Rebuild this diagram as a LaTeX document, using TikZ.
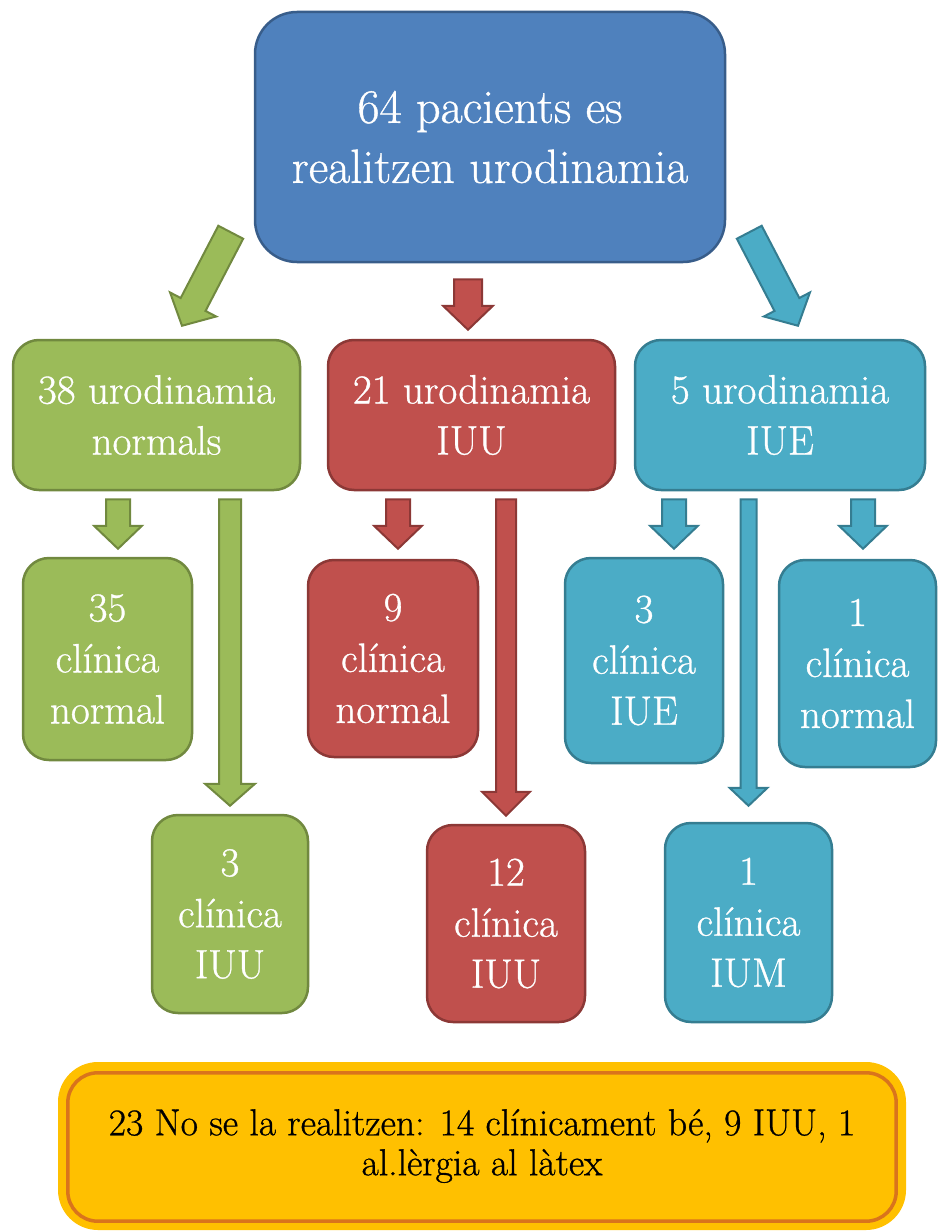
\documentclass[tikz,border=0pt]{standalone}
\usepackage{fontspec}
\newfontfamily\tnr[FakeBold=0.8]{Latin Modern Roman}
\usetikzlibrary{calc}
\definecolor{bluefill}{HTML}{4F81BD}
\definecolor{blueline}{HTML}{385D8A}
\definecolor{greenfill}{HTML}{9BBB59}
\definecolor{greenline}{HTML}{71893F}
\definecolor{redfill}{HTML}{C0504D}
\definecolor{redline}{HTML}{8C3836}
\definecolor{cyanfill}{HTML}{4BACC6}
\definecolor{cyanline}{HTML}{357D91}
\definecolor{notefill}{HTML}{FFC000}
\definecolor{noteline}{HTML}{D9741C}
\newcommand\blockarrow[6]{%
  \path (#2) coordinate (bas) (#3) coordinate (bae);
  \path ($(bae)!#6!(bas)$) coordinate (bah);
  \draw[#1] ($(bas)!#4!90:(bae)$) -- ($(bah)!#4!-90:(bas)$) -- ($(bah)!#5!-90:(bas)$)
    -- (bae) -- ($(bah)!#5!90:(bas)$) -- ($(bah)!#4!90:(bas)$) -- ($(bas)!#4!-90:(bae)$) -- cycle;
}
\tikzset{
  box/.style={rounded corners=26pt, line width=2.5pt, text=white, align=center,
    inner sep=0pt, font=\tnr\fontsize{41}{51}\selectfont},
  gbox/.style={box, fill=greenfill, draw=greenline},
  rbox/.style={box, fill=redfill, draw=redline},
  cbox/.style={box, fill=cyanfill, draw=cyanline},
  garrow/.style={fill=greenfill, draw=greenline, line width=2pt, line join=miter},
  rarrow/.style={fill=redfill, draw=redline, line width=2pt, line join=miter},
  carrow/.style={fill=cyanfill, draw=cyanline, line width=2pt, line join=miter},
}
\begin{document}
\begin{tikzpicture}[x=1pt, y=-1pt]
\useasboundingbox (0,0) rectangle (938,1231);
% top
\node[box, fill=bluefill, draw=blueline, rounded corners=42pt, minimum width=470pt, minimum height=250pt,
  font=\tnr\fontsize{48}{60}\selectfont] (top) at (490,137) {64 pacients es\\realitzen urodinamia};
% level 1
\node[gbox, minimum width=287pt, minimum height=150pt] (gL1) at (156.5,415) {38 urodinamia\\normals};
\node[rbox, minimum width=287pt, minimum height=150pt] (rL1) at (471.5,415) {21 urodinamia\\IUU};
\node[cbox, minimum width=290pt, minimum height=150pt] (cL1) at (780,415) {5 urodinamia\\IUE};
% level 2
\node[gbox, minimum width=169pt, minimum height=202pt] (g35) at (107.5,659) {35\\clínica\\normal};
\node[gbox, minimum width=156pt, minimum height=198pt] (g3) at (230,914) {3\\clínica\\IUU};
\node[rbox, minimum width=170pt, minimum height=197pt] (r9) at (393,658.5) {9\\clínica\\normal};
\node[rbox, minimum width=158pt, minimum height=197pt] (r12) at (506,923.5) {12\\clínica\\IUU};
\node[cbox, minimum width=158pt, minimum height=205pt] (c3) at (644,660.5) {3\\clínica\\IUE};
\node[cbox, minimum width=157pt, minimum height=207pt] (c1n) at (857.5,663.5) {1\\clínica\\normal};
\node[cbox, minimum width=167pt, minimum height=199pt] (c1m) at (748.5,922.5) {1\\clínica\\IUM};
% note
\node[fill=notefill, rounded corners=40pt, minimum width=848pt, minimum height=168pt, inner sep=0pt,
  align=center, font=\tnr\fontsize{37.6}{40}\selectfont] (note) at (482,1146)
  {23 No se la realitzen: 14 clínicament bé, 9 IUU, 1\\al.lèrgia al làtex};
\draw[noteline, line width=3.5pt, rounded corners=30pt]
  ([shift={(10,11)}]note.north west) rectangle ([shift={(-10,-9)}]note.south east);
% arrows from top
\blockarrow{garrow}{$(top.south west)+(-23,-31)$}{$(gL1.north)+(25.5,-13)$}{14pt}{26pt}{24pt}
\blockarrow{rarrow}{$(top.south)+(-22,16)$}{$(rL1.north)+(-3.5,-9)$}{14pt}{25pt}{24pt}
\blockarrow{carrow}{$(top.south east)+(23,-31)$}{$(cL1.north)+(18,-13)$}{14pt}{26pt}{24pt}
% short arrows
\blockarrow{garrow}{$(gL1.south)+(-38.5,8)$}{$(g35.north)+(10.5,-8)$}{12pt}{24pt}{23pt}
\blockarrow{rarrow}{$(rL1.south)+(-73.5,8)$}{$(r9.north)+(5,-10)$}{12pt}{24pt}{23pt}
\blockarrow{carrow}{$(cL1.south)+(-106,8)$}{$(c3.north)+(30,-8)$}{12pt}{24pt}{23pt}
\blockarrow{carrow}{$(cL1.south)+(83,8)$}{$(c1n.north)+(5.5,-10)$}{12pt}{24pt}{23pt}
% long arrows
\blockarrow{garrow}{$(g3.north |- gL1.south)+(0,8)$}{$(g3.north)+(0,-8)$}{11pt}{25pt}{22pt}
\blockarrow{rarrow}{$(r12.north |- rL1.south)+(0,8)$}{$(r12.north)+(0,-8)$}{10pt}{24pt}{24pt}
\blockarrow{carrow}{$(c1m.north |- cL1.south)+(0,8)$}{$(c1m.north)+(0,-16)$}{8pt}{19pt}{18pt}
\end{tikzpicture}
\end{document}
